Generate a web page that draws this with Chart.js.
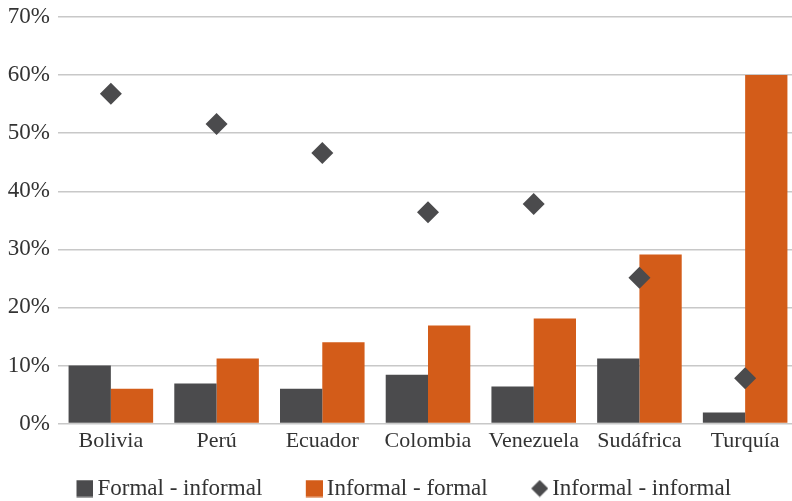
<!DOCTYPE html>
<html>
<head>
<meta charset="utf-8">
<script src="https://cdn.jsdelivr.net/npm/chart.js@4.4.1/dist/chart.umd.min.js"></script>
<style>
  html, body { margin: 0; padding: 0; background: #fff; overflow: hidden; }
  /* a little wider and taller than the window: plot and legend run past the edge like the original */
  #wrap { width: 798px; height: 510px; }
</style>
</head>
<body>
<div id="wrap"><canvas id="chart"></canvas></div>
<script>
const countries = ['Bolivia', 'Perú', 'Ecuador', 'Colombia', 'Venezuela', 'Sudáfrica', 'Turquía'];
const formalInformal = [10.0, 6.9, 6.0, 8.4, 6.4, 11.2, 1.9];
const informalFormal = [6.0, 11.2, 14.0, 16.9, 18.1, 29.1, 60.0];
const informalInformal = [56.8, 51.6, 46.6, 36.4, 37.8, 25.1, 7.8];
const yTicks = [0, 10, 20, 30, 40, 50, 60, 70];

const DARK = '#4b4b4d';
const ORANGE = '#d35c19';
const TEXT = '#333333';
const FONT = "'Liberation Serif', 'DejaVu Serif', serif";
const LEGEND_SHIFT = -9;

// legend markers: marker sits at the right end of a wider transparent image
function marker(kind, color) {
    const c = document.createElement('canvas');
    c.width = 49;
    c.height = 18;
    const ctx = c.getContext('2d');
    ctx.fillStyle = color;
    if (kind === 'square') {
        ctx.fillRect(32, 0.5, 17, 17);
    } else {
        const cx = 40.5, cy = 9;
        ctx.beginPath();
        ctx.moveTo(cx - 8.5, cy);
        ctx.lineTo(cx, cy - 8.5);
        ctx.lineTo(cx + 8.5, cy);
        ctx.lineTo(cx, cy + 8.5);
        ctx.closePath();
        ctx.fill();
    }
    return c;
}
const markers = [marker('square', DARK), marker('square', ORANGE), marker('diamond', DARK)];

const shiftLegend = {
    id: 'shiftLegend',
    afterLayout(chart) {
        chart.legend.left += LEGEND_SHIFT;
        chart.legend.right += LEGEND_SHIFT;
    }
};

new Chart(document.getElementById('chart'), {
    type: 'bar',
    data: {
        labels: countries,
        datasets: [
            {
                label: 'Formal - informal',
                data: formalInformal,
                backgroundColor: DARK,
                order: 2
            },
            {
                label: 'Informal - formal',
                data: informalFormal,
                backgroundColor: ORANGE,
                order: 2
            },
            {
                type: 'line',
                label: 'Informal - informal',
                data: informalInformal,
                showLine: false,
                pointStyle: 'rectRot',
                pointRadius: 11,
                pointHoverRadius: 11,
                pointBackgroundColor: DARK,
                pointBorderColor: DARK,
                pointBorderWidth: 0,
                order: 1
            }
        ]
    },
    plugins: [shiftLegend],
    options: {
        responsive: true,
        maintainAspectRatio: false,
        animation: false,
        categoryPercentage: 0.8,
        barPercentage: 1.0,
        layout: { autoPadding: false, padding: { top: 0, left: 3, right: 0, bottom: 0 } },
        plugins: {
            tooltip: { enabled: false },
            legend: {
                position: 'bottom',
                labels: {
                    usePointStyle: true,
                    pointStyleWidth: 34,
                    padding: 19,
                    color: TEXT,
                    font: { family: FONT, size: 23 },
                    sort: (a, b) => a.datasetIndex - b.datasetIndex,
                    generateLabels: chart => {
                        const items = Chart.defaults.plugins.legend.labels.generateLabels(chart);
                        items.forEach(it => { it.pointStyle = markers[it.datasetIndex]; });
                        return items;
                    }
                }
            }
        },
        scales: {
            x: {
                grid: { display: false, drawTicks: false },
                border: { display: false },
                ticks: { color: TEXT, font: { family: FONT, size: 22 }, padding: 4, maxRotation: 0, autoSkip: false },
                afterFit: scale => { scale.paddingLeft = 0; scale.paddingRight = 0; }
            },
            y: {
                min: 0,
                max: 70,
                afterBuildTicks: axis => { axis.ticks = yTicks.map(v => ({ value: v })); },
                afterFit: scale => { scale.width = 55; scale.paddingTop = 17; },
                grid: { color: '#c8c8c8', lineWidth: 1.5, drawTicks: false },
                border: { display: false },
                ticks: {
                    color: TEXT,
                    font: { family: FONT, size: 23 },
                    padding: 8,
                    callback: v => v + '%'
                }
            }
        }
    }
});
</script>
</body>
</html>
